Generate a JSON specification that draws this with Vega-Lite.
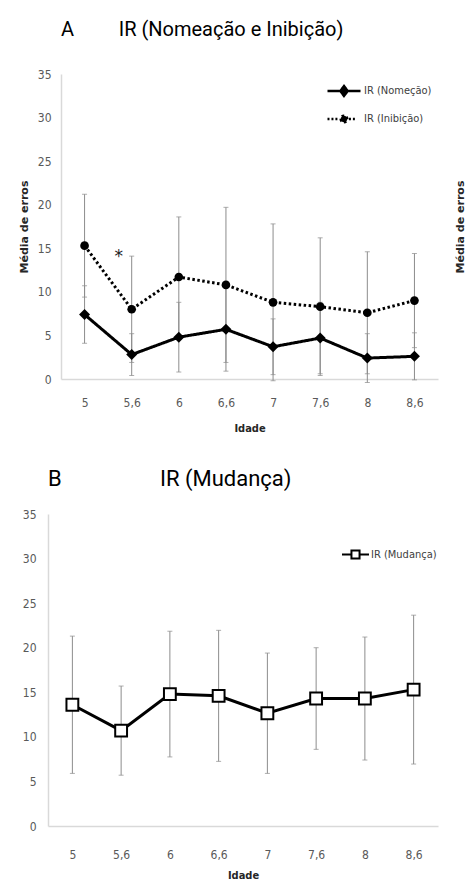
{
  "$schema": "https://vega.github.io/schema/vega-lite/v6.json",
  "background": "white",
  "padding": {"left": 18, "top": 20, "right": 0, "bottom": 0},
  "datasets": {
    "painelA": [
      {"idade": "5", "serie": "IR (Nomeção)", "media": 7.4, "dp": 3.3},
      {"idade": "5,6", "serie": "IR (Nomeção)", "media": 2.8, "dp": 2.4},
      {"idade": "6", "serie": "IR (Nomeção)", "media": 4.8, "dp": 4.0},
      {"idade": "6,6", "serie": "IR (Nomeção)", "media": 5.7, "dp": 4.8},
      {"idade": "7", "serie": "IR (Nomeção)", "media": 3.7, "dp": 3.2},
      {"idade": "7,6", "serie": "IR (Nomeção)", "media": 4.7, "dp": 4.1},
      {"idade": "8", "serie": "IR (Nomeção)", "media": 2.4, "dp": 2.8},
      {"idade": "8,6", "serie": "IR (Nomeção)", "media": 2.6, "dp": 2.7},
      {"idade": "5", "serie": "IR (Inibição)", "media": 15.3, "dp": 5.9},
      {"idade": "5,6", "serie": "IR (Inibição)", "media": 8.0, "dp": 6.1},
      {"idade": "6", "serie": "IR (Inibição)", "media": 11.7, "dp": 6.9},
      {"idade": "6,6", "serie": "IR (Inibição)", "media": 10.8, "dp": 8.9},
      {"idade": "7", "serie": "IR (Inibição)", "media": 8.8, "dp": 9.0},
      {"idade": "7,6", "serie": "IR (Inibição)", "media": 8.3, "dp": 7.9},
      {"idade": "8", "serie": "IR (Inibição)", "media": 7.6, "dp": 7.0},
      {"idade": "8,6", "serie": "IR (Inibição)", "media": 9.0, "dp": 5.4}
    ],
    "painelB": [
      {"idade": "5", "serie": "IR (Mudança)", "media": 13.6, "dp": 7.7},
      {"idade": "5,6", "serie": "IR (Mudança)", "media": 10.7, "dp": 5.0},
      {"idade": "6", "serie": "IR (Mudança)", "media": 14.8, "dp": 7.05},
      {"idade": "6,6", "serie": "IR (Mudança)", "media": 14.6, "dp": 7.35},
      {"idade": "7", "serie": "IR (Mudança)", "media": 12.65, "dp": 6.75},
      {"idade": "7,6", "serie": "IR (Mudança)", "media": 14.3, "dp": 5.7},
      {"idade": "8", "serie": "IR (Mudança)", "media": 14.3, "dp": 6.9},
      {"idade": "8,6", "serie": "IR (Mudança)", "media": 15.3, "dp": 8.35}
    ],
    "marcas": [
      {"idade": "5,6", "valor": 14.6, "rotulo": "*"}
    ]
  },
  "config": {
    "view": {"stroke": null},
    "font": "Roboto",
    "axis": {
      "grid": false,
      "ticks": false,
      "domainColor": "#d9d9d9",
      "domainWidth": 1.5,
      "labelColor": "#595959",
      "labelFont": "DejaVu Sans Condensed, Roboto, sans-serif",
      "labelFontSize": 12,
      "titleColor": "#262626"
    },
    "legend": {"padding": 0}
  },
  "columns": 1,
  "spacing": 35,
  "resolve": {"scale": {"color": "independent", "strokeDash": "independent"}, "legend": {"color": "independent"}},
  "concat": [
    {
      "width": 390,
      "height": 305,
      "title": {"text": "A\u00a0\u00a0\u00a0\u00a0\u00a0\u00a0\u00a0\u00a0\u00a0IR (Nomeação e Inibição)", "anchor": "start", "frame": "group", "dx": 13, "font": "Roboto", "fontSize": 20, "fontWeight": "normal", "color": "#000000", "offset": 28},
      "data": {"name": "painelA"},
      "encoding": {
        "x": {"field": "idade", "type": "ordinal", "scale": {"type": "point", "domain": ["5", "5,6", "6", "6,6", "7", "7,6", "8", "8,6"], "range": [13, 390], "padding": 0.5},
          "axis": {"title": "Idade", "labelAngle": 0, "labelPadding": 18, "titleFont": "DejaVu Sans Condensed, Roboto, sans-serif", "titleFontSize": 11, "titleFontWeight": "bold", "titlePadding": 14}}
      },
      "layer": [
        {
          "mark": {"type": "errorbar", "ticks": {"size": 5, "thickness": 1, "color": "#8c8c8c"}, "rule": {"strokeWidth": 1, "color": "#8c8c8c"}},
          "encoding": {
            "y": {"field": "media", "type": "quantitative", "scale": {"domain": [0, 35]},
              "axis": {"title": "Média de erros", "offset": -13, "values": [0, 5, 10, 15, 20, 25, 30, 35], "labelPadding": 10, "titleFont": "DejaVu Sans", "titleFontSize": 11, "titleFontWeight": "bold", "titlePadding": 8}},
            "yError": {"field": "dp"},
            "detail": {"field": "serie"}
          }
        },
        {
          "mark": {"type": "line", "strokeWidth": 3},
          "encoding": {
            "y": {"field": "media", "type": "quantitative",
              "axis": {"orient": "right", "title": "Média de erros", "labels": false, "domain": false, "ticks": false, "titleAngle": 270, "titleFont": "DejaVu Sans", "titleFontSize": 11, "titleFontWeight": "bold", "titlePadding": 27}},
            "color": {"field": "serie", "type": "nominal", "scale": {"domain": ["IR (Nomeção)", "IR (Inibição)"], "range": ["#000000", "#000000"]},
              "legend": {"title": null, "orient": "none", "legendX": 278, "legendY": -1, "symbolSize": 1089, "symbolStrokeWidth": 2.5, "labelFont": "DejaVu Sans Condensed, Roboto, sans-serif", "labelFontSize": 11, "labelColor": "#404040", "labelOffset": 2, "rowPadding": -19,
                "encode": {"symbols": {"update": {
                  "shape": {"signal": "datum.value === 'IR (Nomeção)' ? 'M-1,0H1M-0.22,0L0,-0.3L0.22,0L0,0.3Z' : 'M-1,0H-0.88M-0.76,0H-0.64M-0.52,0H-0.4M0.3,0H0.42M0.54,0H0.66M-0.2,0A0.2,0.2 0 1,0 0.2,0A0.2,0.2 0 1,0 -0.2,0Z'"},
                  "size": {"value": 1089},
                  "fill": {"value": "#000000"},
                  "stroke": {"value": "#000000"},
                  "strokeWidth": {"value": 2.5},
                  "opacity": {"value": 1}
                }}}}},
            "strokeDash": {"field": "serie", "type": "nominal", "scale": {"domain": ["IR (Nomeção)", "IR (Inibição)"], "range": [[1, 0], [2.5, 2.5]]}, "legend": null}
          }
        },
        {
          "transform": [{"filter": {"field": "serie", "equal": "IR (Nomeção)"}}],
          "mark": {"type": "point", "shape": "diamond", "size": 120, "filled": true, "opacity": 1, "color": "#000000"},
          "encoding": {
            "y": {"field": "media", "type": "quantitative", "axis": null}
          }
        },
        {
          "transform": [{"filter": {"field": "serie", "equal": "IR (Inibição)"}}],
          "mark": {"type": "point", "shape": "circle", "size": 75, "filled": true, "opacity": 1, "color": "#000000"},
          "encoding": {
            "y": {"field": "media", "type": "quantitative", "axis": null}
          }
        },
        {
          "data": {"name": "marcas"},
          "mark": {"type": "text", "font": "DejaVu Sans", "fontSize": 17, "dx": -13, "dy": 5, "color": "#222222"},
          "encoding": {
            "y": {"field": "valor", "type": "quantitative", "axis": null},
            "text": {"field": "rotulo"}
          }
        }
      ],
      "resolve": {"axis": {"y": "independent"}}
    },
    {
      "width": 390,
      "height": 312,
      "title": {"text": "B\u00a0\u00a0\u00a0\u00a0\u00a0\u00a0\u00a0\u00a0\u00a0\u00a0\u00a0\u00a0\u00a0\u00a0\u00a0\u00a0\u00a0\u00a0IR (Mudança)", "anchor": "start", "frame": "group", "font": "Roboto", "fontSize": 22, "fontWeight": "normal", "color": "#000000", "offset": 17},
      "data": {"name": "painelB"},
      "encoding": {
        "x": {"field": "idade", "type": "ordinal", "scale": {"type": "point", "domain": ["5", "5,6", "6", "6,6", "7", "7,6", "8", "8,6"], "padding": 0.5},
          "axis": {"title": "Idade", "labelAngle": 0, "labelPadding": 23, "titleFont": "DejaVu Sans Condensed, Roboto, sans-serif", "titleFontSize": 11, "titleFontWeight": "bold", "titlePadding": 9}}
      },
      "layer": [
        {
          "mark": {"type": "errorbar", "ticks": {"size": 5, "thickness": 1, "color": "#8c8c8c"}, "rule": {"strokeWidth": 1, "color": "#8c8c8c"}},
          "encoding": {
            "y": {"field": "media", "type": "quantitative", "scale": {"domain": [0, 35]},
              "axis": {"title": null, "values": [0, 5, 10, 15, 20, 25, 30, 35], "labelPadding": 12}},
            "yError": {"field": "dp"}
          }
        },
        {
          "mark": {"type": "line", "strokeWidth": 3},
          "encoding": {
            "y": {"field": "media", "type": "quantitative"},
            "color": {"field": "serie", "type": "nominal", "scale": {"domain": ["IR (Mudança)"], "range": ["#000000"]},
              "legend": {"title": null, "orient": "none", "legendX": 293, "legendY": 26, "symbolSize": 729, "symbolStrokeWidth": 3, "labelFont": "DejaVu Sans Condensed, Roboto, sans-serif", "labelFontSize": 11, "labelColor": "#404040", "labelOffset": 1,
                "encode": {"symbols": {"update": {
                  "shape": {"value": "M-1,0H-0.3M0.3,0H1M-0.3,-0.3H0.3V0.3H-0.3Z"},
                  "size": {"value": 729},
                  "fill": {"value": "#ffffff"},
                  "strokeWidth": {"value": 2}
                }}}}}
          }
        },
        {
          "mark": {"type": "point", "shape": "square", "filled": true, "fill": "#ffffff", "stroke": "#000000", "strokeWidth": 2, "size": 140, "opacity": 1},
          "encoding": {
            "y": {"field": "media", "type": "quantitative"}
          }
        }
      ]
    }
  ]
}
